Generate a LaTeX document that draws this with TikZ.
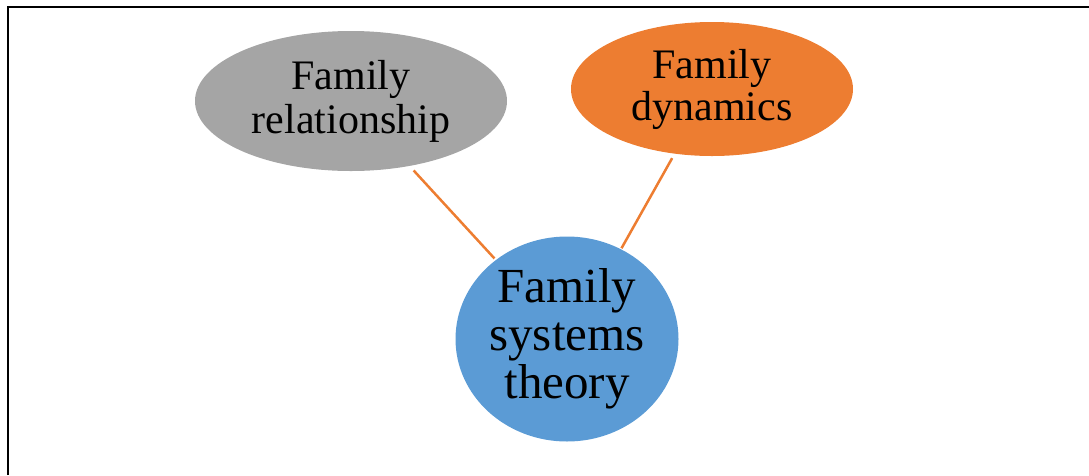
\documentclass[tikz,border=0pt]{standalone}
\usepackage{fontspec}
\setmainfont{Liberation Serif}
\usetikzlibrary{shapes.geometric}
\definecolor{cgray}{HTML}{A5A5A5}
\definecolor{corange}{HTML}{ED7D31}
\definecolor{cblue}{HTML}{5B9BD5}
\begin{document}
\begin{tikzpicture}[x=1pt,y=-1pt,
  bubble/.style={ellipse,inner sep=0pt,align=center,text=black},
  link/.style={draw=corange,line width=2.5pt}]
\useasboundingbox (0,0) rectangle (1089,475);
\coordinate (tl) at (8,7);
\coordinate (tr) at (1089,7);
\coordinate (bl) at (8,475);
\draw[line width=2pt] (bl) -- (tl) -- (tr);
\node[bubble,fill=cgray,minimum width=312pt,minimum height=140pt,font=\fontsize{42}{44}\selectfont] (g) at (351,101) {Family\\relationship};
\node[bubble,fill=corange,minimum width=282pt,minimum height=134pt,font=\fontsize{42}{42}\selectfont] (o) at (712,89) {Family\\dynamics};
\node[bubble,fill=cblue,minimum width=223pt,minimum height=205pt,font=\fontsize{49}{48}\selectfont] (b) at (567,339) {Family\\systems\\theory};
\draw[link,shorten <=6pt,shorten >=2pt] (g.-48.5) -- (b.132.7);
\draw[link,shorten <=5pt,shorten >=1pt] (o.-120) -- (b.59.3);
\end{tikzpicture}
\end{document}
